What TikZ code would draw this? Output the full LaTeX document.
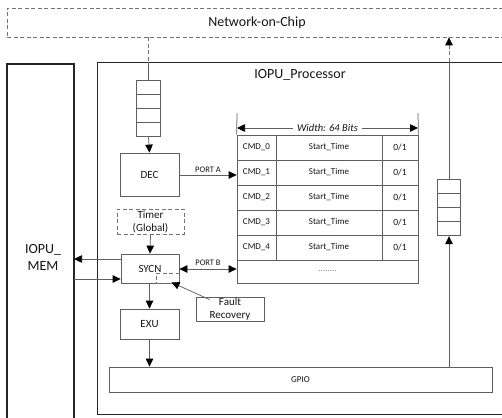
\documentclass[tikz,border=0pt]{standalone}
\usepackage{fontspec}
\setmainfont{Carlito}
\usetikzlibrary{arrows.meta,calc}
\definecolor{boxc}{RGB}{95,95,95}
\definecolor{dashc}{RGB}{115,115,115}
\definecolor{txtc}{RGB}{20,20,20}
\begin{document}
\begin{tikzpicture}[x=1pt,y=-1pt,
  box/.style={draw=boxc, line width=0.75pt, rectangle, inner sep=0pt, align=center, text=txtc, font=\fontsize{11}{13}\selectfont},
  dbox/.style={box, draw=dashc, dash pattern=on 4pt off 2.5pt},
  bigbox/.style={draw=black!85, line width=1.3pt, rectangle, inner sep=0pt},
  cell/.style={box, minimum height=25, font=\fontsize{9}{11}\selectfont},
  qbox/.style={box, minimum height=56.8, minimum width=23.5},
  lbl/.style={inner sep=0pt, text=txtc, align=center},
  arrend/.style={-{Triangle[length=8pt,width=7.5pt,color=black]}},
  arrboth/.style={{Triangle[length=8pt,width=7.5pt,color=black]}-{Triangle[length=8pt,width=7.5pt,color=black]}},
  conn/.style={draw=boxc, line width=0.75pt},
  dconn/.style={draw=dashc, line width=0.75pt, dash pattern=on 4pt off 2.5pt},
]
\useasboundingbox (0,0) rectangle (502,417);

% Network-on-Chip
\node[dbox, minimum width=500, minimum height=29, font=\fontsize{14}{16}\selectfont] (noc) at (257,22.5) {Network-on-Chip};

% IOPU_MEM
\draw[bigbox] (7,430) -- (7,64) -- (74,64) -- (74,430);
\node[lbl, font=\fontsize{14}{17}\selectfont] (memlbl) at (43,257) {IOPU\_\\MEM};
\coordinate (memA) at (74,259);
\coordinate (memB) at (74,279);

% IOPU_Processor
\node[bigbox, minimum width=410, minimum height=352, anchor=north west] (proc) at (97,62) {};
\node[lbl, font=\fontsize{14}{16}\selectfont] (proctitle) at (300,75) {IOPU\_Processor};

% left queue
\node[qbox] (qa) at (148.5,108.4) {};
\foreach \k in {1,2,3}{
  \draw[conn] ($(qa.north west)!\k/4!(qa.south west)$) -- ($(qa.north east)!\k/4!(qa.south east)$);
}

% right queue
\node[qbox] (qb) at (449,207.4) {};
\foreach \k in {1,2,3}{
  \draw[conn] ($(qb.north west)!\k/4!(qb.south west)$) -- ($(qb.north east)!\k/4!(qb.south east)$);
}

% blocks
\node[box, minimum width=59, minimum height=43] (dec) at (149.5,174.5) {DEC};
\node[dbox, minimum width=67, minimum height=25] (timer) at (150.5,221.5) {Timer\\(Global)};
\node[box, minimum width=58, minimum height=29] (sycn) at (150,268.5) {SYCN};
\node[dbox, minimum width=23, minimum height=10, anchor=south east] (sb) at (sycn.south east) {};
\node[box, minimum width=68, minimum height=24] (fr) at (230,309) {Fault\\Recovery};
\node[box, minimum width=59, minimum height=30] (exu) at (149.5,324) {EXU};
\node[box, minimum width=383, minimum height=25, font=\fontsize{9}{11}\selectfont] (gpio) at (300.5,379.5) {GPIO};

% table
\foreach \i in {0,...,4}{
  \node[cell, minimum width=39] (c\i a) at (256.5,147.5+25*\i) {CMD\_\i};
  \node[cell, minimum width=106] (c\i b) at (329,147.5+25*\i) {Start\_Time};
  \node[cell, minimum width=36, font=\fontsize{9.5}{11}\selectfont] (c\i c) at (400,147.5+25*\i) {0/1};
}
\node[cell, minimum width=181, minimum height=23, text=black!50] (clast) at (327.5,271.5) {\raisebox{2pt}{........}};

% width arrow
\coordinate (tl1) at (237,113);
\coordinate (tr1) at (418,113);
\draw[conn] (tl1) -- (c0a.north west);
\draw[conn] (tr1) -- (c0c.north east);
\coordinate (wl) at (237,128);
\coordinate (wr) at (418,128);
\node[lbl, fill=white, inner xsep=4pt, font=\itshape\fontsize{10.5}{12}\selectfont] (wlbl) at (327.5,128) {Width: 64 Bits};
\draw[conn, arrend] (wlbl.west) -- (wl);
\draw[conn, arrend] (wlbl.east) -- (wr);

% NoC to left queue
\coordinate (pa) at (qa.north |- proc.north);
\draw[dconn] (noc.south -| qa.north) -- (pa);
\draw[conn] (pa) -- (qa.north);
\draw[conn, arrend] (qa.south) -- (dec.north);

% PORT A
\coordinate (pA) at (c1a.west |- 0,175);
\draw[conn, arrend] (dec.east |- pA) -- node[lbl, above=2pt, font=\fontsize{8.5}{10}\selectfont] (portA) {PORT A} (pA);

% Timer -> SYCN
\draw[conn, arrend] (timer.south) -- (sycn.north);

% SYCN <-> MEM
\draw[conn, arrend] (sycn.west |- memA) -- (memA);
\draw[conn, arrend] (memB) -- (sycn.west |- memB);

% PORT B
\coordinate (pB) at (clast.west |- 0,269);
\draw[conn, arrboth] (sycn.east |- pB) -- node[lbl, above=3pt, font=\fontsize{8.5}{10}\selectfont] (portB) {PORT B} (pB);

% Fault recovery
\draw[conn, arrend] ($(fr.north west)+(14,3)$) -- ($(sb.south)+(4,-1)$);

% SYCN -> EXU -> GPIO
\draw[conn, arrend] (sycn.south -| exu.north) -- (exu.north);
\draw[conn, arrend] (exu.south) -- (exu.south |- gpio.north);

% GPIO -> right queue -> NoC
\draw[conn, arrend] (gpio.north -| qb.south) -- (qb.south);
\coordinate (pb) at (qb.north |- proc.north);
\draw[conn] (qb.north) -- (pb);
\draw[dconn, arrend] (pb) -- (pb |- noc.south);

\end{tikzpicture}
\end{document}
